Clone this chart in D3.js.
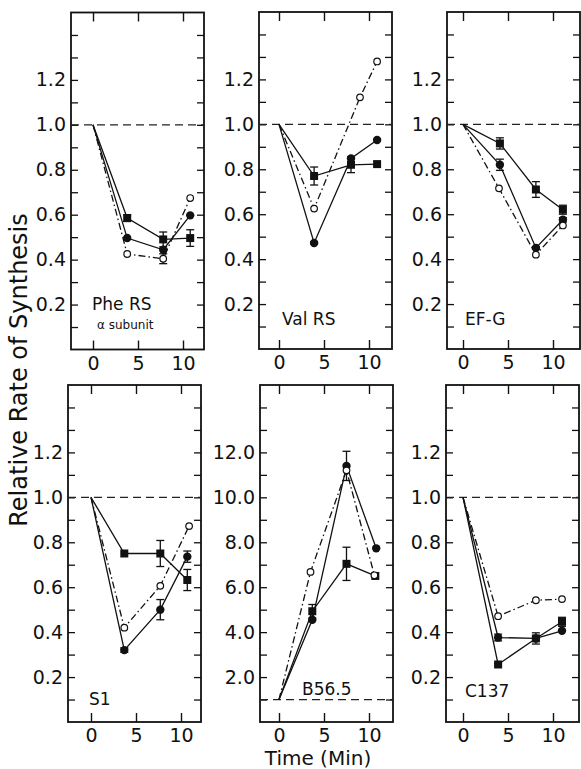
<!DOCTYPE html>
<html>
<head>
<meta charset="utf-8">
<script src="https://cdn.jsdelivr.net/npm/d3@7"></script>
<style>
  body { margin: 0; background: #fff; }
  text { font-family: "DejaVu Sans", sans-serif; fill: #111; }
</style>
</head>
<body>
<svg id="chart" width="581" height="769"></svg>
<script>
// panel names, in reading order
const panelTitles = ["Phe RS", "Val RS", "EF-G", "S1", "B56.5", "C137"];
const panelSubtitles = ["\u03b1 subunit", "", "", "", "", ""];

// each point: [time (min), relative rate, error]
const squareSeries = [
    [[0, 1], [3.8, 0.585, 0.015], [7.8, 0.49, 0.033], [10.8, 0.496, 0.037]],
    [[0, 1], [3.9, 0.77, 0.04], [8.0, 0.82, 0.035], [10.9, 0.823]],
    [[0, 1], [4.1, 0.915, 0.025], [8.1, 0.71, 0.035], [11.1, 0.62, 0.02]],
    [[0, 1], [3.7, 0.75], [7.7, 0.75, 0.058], [10.7, 0.632, 0.047]],
    [[0, 1], [3.7, 4.93, 0.3], [7.5, 7.04, 0.74], [10.7, 6.5]],
    [[0, 1], [3.9, 0.256, 0.005], [8.1, 0.372, 0.025], [11.0, 0.446, 0.02]]
];
const filledCircleSeries = [
    [[0, 1], [3.8, 0.496], [7.8, 0.444], [10.8, 0.597]],
    [[0, 1], [3.9, 0.472, 0.004], [8.0, 0.848], [10.9, 0.93]],
    [[0, 1], [4.1, 0.82, 0.025], [8.1, 0.45, 0.005], [11.1, 0.575, 0.01]],
    [[0, 1], [3.7, 0.32, 0.01], [7.7, 0.5, 0.045], [10.7, 0.736, 0.025]],
    [[0, 1], [3.7, 4.55], [7.5, 11.4, 0.65], [10.8, 7.73]],
    [[0, 1], [3.9, 0.376, 0.015], [8.1, 0.372], [11.0, 0.406]]
];
const openCircleSeries = [
    [[0, 1], [3.8, 0.425], [7.8, 0.404, 0.022], [10.8, 0.674]],
    [[0, 1], [3.9, 0.625], [9.0, 1.12], [10.9, 1.28]],
    [[0, 1], [4.0, 0.715], [8.1, 0.42], [11.1, 0.55]],
    [[0, 1], [3.7, 0.42], [7.7, 0.606], [10.9, 0.872]],
    [[0, 1], [3.5, 6.68], [7.5, 11.2], [10.6, 6.53]],
    [[0, 1], [3.9, 0.471], [8.1, 0.542], [11.0, 0.547]]
];

// axis ticks
const xTickValues = [0, 5, 10];
const yMaxRelative = 1.5;
const yMaxB565 = 15;
const yLabelsRelative = ["0.2", "0.4", "0.6", "0.8", "1.0", "1.2"];
const yLabelsB565 = ["2.0", "4.0", "6.0", "8.0", "10.0", "12.0"];

// layout of the six frames (left edge, top edge, pixel of t = 0)
const frames = [
    { left: 71, top: 12.5, zero: 93 },
    { left: 259, top: 12, zero: 279 },
    { left: 447, top: 12, zero: 463 },
    { left: 68, top: 385, zero: 91 },
    { left: 260, top: 385, zero: 279 },
    { left: 446, top: 385, zero: 463 }
];
const frameW = 133, frameH = 337, pxPerMin = 9;
const titlePos = [
    { x: 92, y: 310 }, { x: 282, y: 325 }, { x: 465, y: 325 },
    { x: 89, y: 705 }, { x: 302, y: 695 }, { x: 465, y: 697 }
];

const svg = d3.select("#chart");

frames.forEach((f, i) => {
    const isB = i === 4;
    const yMax = isB ? yMaxB565 : yMaxRelative;
    const step = isB ? 1 : 0.1;
    const labels = isB ? yLabelsB565 : yLabelsRelative;

    const x = d3.scaleLinear().domain([0, 10]).range([f.zero, f.zero + 10 * pxPerMin]);
    const y = d3.scaleLinear().domain([0, yMax]).range([f.top + frameH, f.top]);

    const g = svg.append("g");

    // y ticks every step on both sides, labels on the left
    const yTicks = d3.range(1, Math.round(yMax / step)).map(k => +(k * step).toFixed(2));
    const labelFor = v => {
        const idx = labels.findIndex(l => Math.abs(parseFloat(l) - v) < 1e-6);
        return idx >= 0 ? labels[idx] : "";
    };

    g.append("g")
        .attr("transform", `translate(${f.left},0)`)
        .call(d3.axisLeft(y).tickValues(yTicks).tickSize(-7).tickPadding(5).tickFormat(labelFor))
        .call(a => a.select(".domain").remove())
        .call(a => a.selectAll("line").attr("stroke", "#111").attr("stroke-width", 1.3))
        .call(a => a.selectAll("text").attr("font-size", 19).attr("font-family", "DejaVu Sans").attr("fill", "#111"));

    g.append("g")
        .attr("transform", `translate(${f.left + frameW},0)`)
        .call(d3.axisRight(y).tickValues(yTicks).tickSize(-7).tickFormat(""))
        .call(a => a.select(".domain").remove())
        .call(a => a.selectAll("line").attr("stroke", "#111").attr("stroke-width", 1.3));

    // x ticks top and bottom, labels below
    g.append("g")
        .attr("transform", `translate(0,${f.top})`)
        .call(d3.axisTop(x).tickValues(xTickValues).tickSize(-9).tickFormat(""))
        .call(a => a.select(".domain").remove())
        .call(a => a.selectAll("line").attr("stroke", "#111").attr("stroke-width", 1.4));

    g.append("g")
        .attr("transform", `translate(0,${f.top + frameH})`)
        .call(d3.axisBottom(x).tickValues(xTickValues).tickSize(-9).tickPadding(7))
        .call(a => a.select(".domain").remove())
        .call(a => a.selectAll("line").attr("stroke", "#111").attr("stroke-width", 1.4))
        .call(a => a.selectAll("text").attr("font-size", 19).attr("font-family", "DejaVu Sans").attr("fill", "#111"));

    // frame
    g.append("rect")
        .attr("x", f.left).attr("y", f.top)
        .attr("width", frameW).attr("height", frameH)
        .attr("fill", "none").attr("stroke", "#111").attr("stroke-width", 1.8);

    // dashed control level at 1.0
    g.append("line")
        .attr("x1", f.left).attr("x2", f.left + frameW)
        .attr("y1", y(1)).attr("y2", y(1))
        .attr("stroke", "#222").attr("stroke-width", 1.2)
        .attr("stroke-dasharray", "8,5");

    const line = d3.line().x(d => x(d[0])).y(d => y(d[1]));
    const series = [
        { data: squareSeries[i], dash: null, shape: "square" },
        { data: filledCircleSeries[i], dash: null, shape: "dot" },
        { data: openCircleSeries[i], dash: "7,3,1.5,3", shape: "open" }
    ];

    series.forEach(s => {
        g.append("path")
            .attr("d", line(s.data))
            .attr("fill", "none")
            .attr("stroke", "#111")
            .attr("stroke-width", 1.3)
            .attr("stroke-dasharray", s.dash);
    });

    // error bars
    series.forEach(s => {
        const withErr = s.data.filter(d => d[2] !== undefined);
        const eb = g.append("g").attr("stroke", "#111").attr("stroke-width", 1.3);
        withErr.forEach(d => {
            const cx = x(d[0]);
            eb.append("line").attr("x1", cx).attr("x2", cx)
                .attr("y1", y(d[1] - d[2])).attr("y2", y(d[1] + d[2]));
            [d[1] - d[2], d[1] + d[2]].forEach(v => {
                eb.append("line").attr("x1", cx - 4).attr("x2", cx + 4)
                    .attr("y1", y(v)).attr("y2", y(v));
            });
        });
    });

    // markers (skip the t = 0 reference point)
    series.forEach(s => {
        const pts = s.data.slice(1);
        if (s.shape === "square") {
            g.selectAll(null).data(pts).join("rect")
                .attr("x", d => x(d[0]) - 4).attr("y", d => y(d[1]) - 4)
                .attr("width", 8).attr("height", 8)
                .attr("fill", "#111");
        } else if (s.shape === "dot") {
            g.selectAll(null).data(pts).join("circle")
                .attr("cx", d => x(d[0])).attr("cy", d => y(d[1]))
                .attr("r", 4.2).attr("fill", "#111");
        } else {
            g.selectAll(null).data(pts).join("circle")
                .attr("cx", d => x(d[0])).attr("cy", d => y(d[1]))
                .attr("r", 3.3).attr("fill", "#fff")
                .attr("stroke", "#111").attr("stroke-width", 1.2);
        }
    });

    // panel title
    g.append("text")
        .attr("x", titlePos[i].x).attr("y", titlePos[i].y)
        .attr("font-size", 17)
        .text(panelTitles[i]);
    if (panelSubtitles[i]) {
        g.append("text")
            .attr("x", titlePos[i].x + 5).attr("y", titlePos[i].y + 19)
            .attr("font-size", 12)
            .text(panelSubtitles[i]);
    }
});

// shared axis titles
svg.append("text")
    .attr("transform", "translate(27,370) rotate(-90)")
    .attr("text-anchor", "middle")
    .attr("font-size", 24)
    .text("Relative Rate of Synthesis");

svg.append("text")
    .attr("x", 318).attr("y", 765)
    .attr("text-anchor", "middle")
    .attr("font-size", 20)
    .text("Time (Min)");
</script>
</body>
</html>
